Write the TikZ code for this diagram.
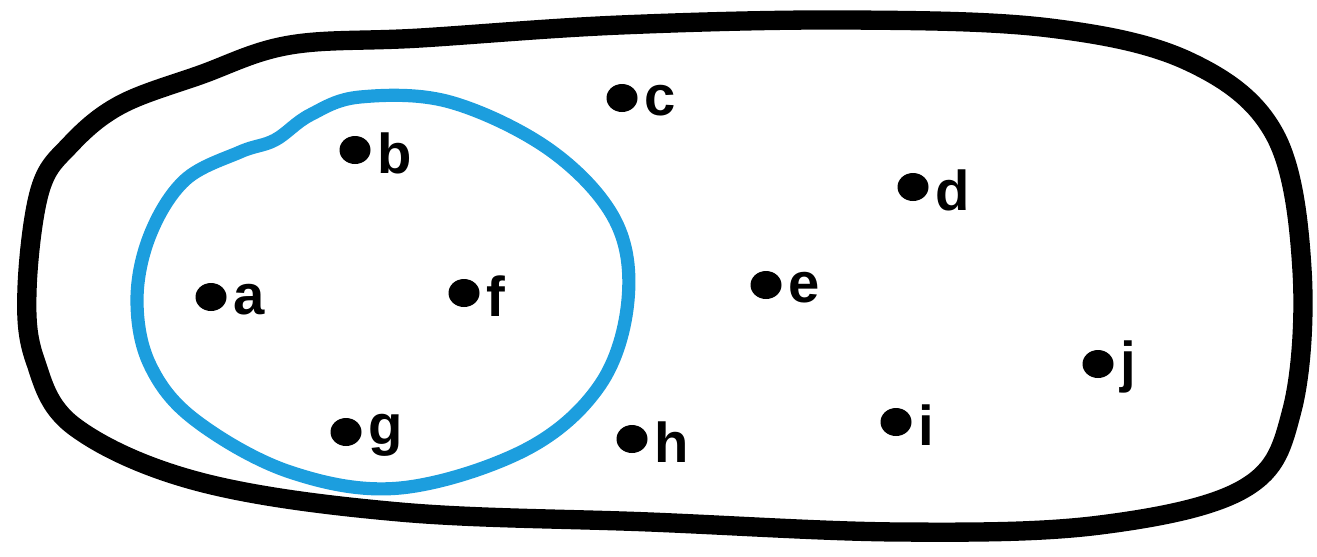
\documentclass[tikz,border=0pt]{standalone}
\usepackage{fontspec}
\setmainfont{Liberation Sans}
\definecolor{setblue}{RGB}{28,158,222}
\tikzset{
  pt/.style={ellipse,fill=black,inner sep=0pt,minimum width=31\pxu,minimum height=28\pxu},
  lbl/.style={anchor=west,inner sep=0pt,font=\fontsize{32}{38}\selectfont\bfseries},
}
\usetikzlibrary{shapes.geometric}
\newlength{\pxu}
\setlength{\pxu}{0.02cm}
\begin{document}
\begin{tikzpicture}[x=0.02cm,y=-0.02cm]
  \useasboundingbox (0,0) rectangle (1317,556);
  % --- outer set ---
  \draw[line width=11pt,line join=round] plot[smooth cycle,tension=0.6] coordinates {
    (27,290) (40,190) (70,145) (120,105) (200,75) (290,45) (420,38)
    (620,25) (850,20) (1050,28) (1190,62) (1275,135) (1302,270)
    (1292,410) (1245,488) (1100,525) (900,532) (650,522) (400,512)
    (200,482) (75,427) (35,360)};
  % --- blue subset ---
  \draw[line width=7.5pt,setblue,line join=round] plot[smooth cycle,tension=0.6] coordinates {
    (137,300) (150,235) (185,180) (240,152) (275,140) (310,115) (360,97)
    (450,102) (550,150) (615,220) (628,300) (600,385) (525,450)
    (400,488) (290,472) (195,420) (150,365)};
  % --- elements ---
  \foreach \n/\x/\y in {a/211/297, b/355/150, c/622/98, d/913/187, e/766/285,
                        f/464/293, g/346/432, h/632/439, i/896/422, j/1098/364} {
    \node[pt] (\n) at (\x,\y) {};
    \node[lbl] (l\n) at ([xshift=6\pxu,yshift=-3\pxu]\n.east) {\n};
  }
\end{tikzpicture}
\end{document}
